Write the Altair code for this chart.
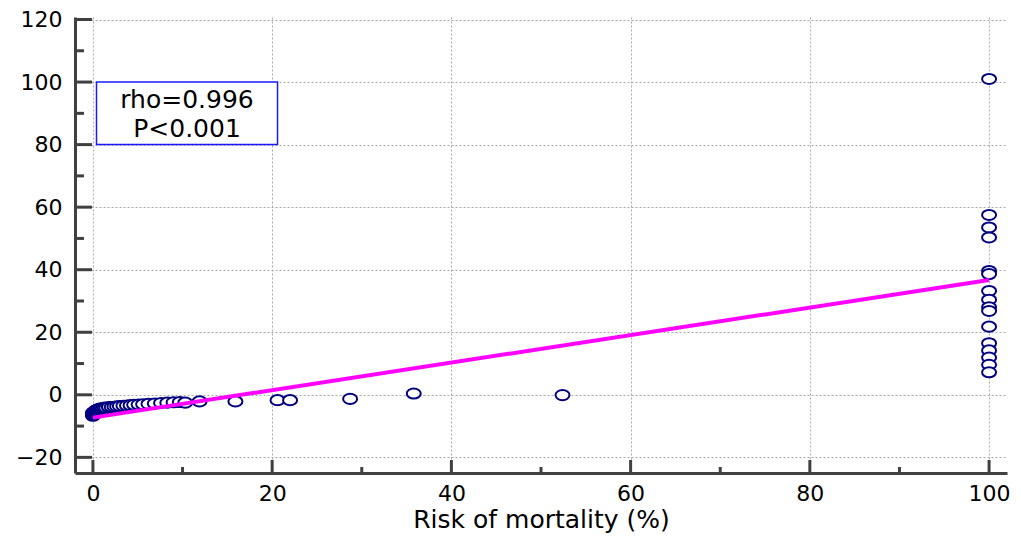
import altair as alt
import pandas as pd

# Observed points (risk of mortality %, observed value)
pts_x = [0.0, 0.0, 0.0, 0.0, 0.1, 0.1, 0.2, 0.2, 0.3, 0.3, 0.4, 0.4, 0.5, 0.5,
         0.7, 0.7, 0.9, 0.9, 1.1, 1.3, 1.3, 1.5, 1.8, 1.8, 2.1, 2.4, 2.7, 3.0,
         3.4, 3.8, 4.2, 4.6, 5.1, 5.6, 6.2, 6.9, 7.6, 8.3, 9.0, 9.7, 10.3, 11.9,
         15.9, 20.6, 22.0, 28.7, 35.8, 52.4,
         100, 100, 100, 100, 100, 100, 100, 100, 100, 100, 100, 100, 100, 100, 100, 100]
pts_y = [-6.7, -6.4, -6.1, -5.8, -6.2, -5.6, -5.9, -5.3, -5.5, -5.1, -5.2, -4.9, -5.0, -4.7,
         -4.8, -4.5, -4.6, -4.3, -4.4, -4.3, -4.1, -4.2, -4.0, -3.9, -3.9, -3.8, -3.7, -3.6,
         -3.5, -3.4, -3.3, -3.2, -3.1, -3.0, -2.9, -2.8, -2.6, -2.5, -2.4, -2.3, -2.5, -2.1,
         -2.1, -1.7, -1.7, -1.3, 0.4, -0.1,
         101.0, 57.5, 53.5, 50.3, 39.6, 38.6, 33.2, 30.4, 28.0, 26.8, 21.8, 16.5, 14.2, 11.9, 9.6, 7.2]

# Regression line end points
fit_x = [0, 100]
fit_y = [-7.3, 36.7]

x_major = [0, 20, 40, 60, 80, 100]
x_minor = [10, 30, 50, 70, 90]
y_major = [-20, 0, 20, 40, 60, 80, 100, 120]
y_minor = [-10, 10, 30, 50, 70, 90, 110]

stat_lines = ["rho=0.996", "P<0.001"]
box_x = [0.4, 20.6]
box_y = [80, 100]
text_x = [10.5, 10.5]
text_y = [94.2, 85.0]

AXIS_COL = "#404040"
xs = alt.Scale(domain=[-2, 102], nice=False, zero=False)
ys = alt.Scale(domain=[-25, 120.8], nice=False, zero=False)
ax_x = alt.Axis(values=x_major, title="Risk of mortality (%)", grid=True)
ax_y = alt.Axis(values=y_major, title=None, grid=True)


def X(f):
    return alt.X(f, type="quantitative", scale=xs, axis=ax_x, title="Risk of mortality (%)")


def Y(f):
    return alt.Y(f, type="quantitative", scale=ys, axis=ax_y, title=None)


df_pts = pd.DataFrame({"x": pts_x, "y": pts_y})
df_fit = pd.DataFrame({"x": fit_x, "y": fit_y})

ellipse = "M -1 0 A 1 0.72 0 1 1 1 0 A 1 0.72 0 1 1 -1 0 Z"

points = alt.Chart(df_pts).mark_point(
    shape=ellipse, size=196, filled=True, color="white",
    stroke="#000080", strokeWidth=2, opacity=1
).encode(x=X("x"), y=Y("y"))

fit = alt.Chart(df_fit).mark_line(color="#FF00FF", strokeWidth=4).encode(x=X("x"), y=Y("y"))

xmaj = alt.Chart(pd.DataFrame({"x": x_major})).mark_rule(color=AXIS_COL, strokeWidth=3).encode(
    x=X("x"), y=alt.value(443), y2=alt.value(456))
xmin = alt.Chart(pd.DataFrame({"x": x_minor})).mark_rule(color=AXIS_COL, strokeWidth=3).encode(
    x=X("x"), y=alt.value(450), y2=alt.value(456))
ymaj = alt.Chart(pd.DataFrame({"y": y_major})).mark_rule(color=AXIS_COL, strokeWidth=3).encode(
    y=Y("y"), x=alt.value(0), x2=alt.value(17))
ymin = alt.Chart(pd.DataFrame({"y": y_minor})).mark_rule(color=AXIS_COL, strokeWidth=3).encode(
    y=Y("y"), x=alt.value(0), x2=alt.value(9))

box = alt.Chart(pd.DataFrame({"x": [box_x[0]], "x2": [box_x[1]], "y": [box_y[0]], "y2": [box_y[1]]})).mark_rect(
    fill="white", stroke="#1a1aff", strokeWidth=1.5
).encode(x=X("x"), x2="x2:Q", y=Y("y"), y2="y2:Q")

txt = alt.Chart(pd.DataFrame({"x": text_x, "y": text_y, "t": stat_lines})).mark_text(
    font="DejaVu Sans", fontSize=25, align="center", baseline="middle", color="black"
).encode(x=X("x"), y=Y("y"), text="t:N")

chart = alt.layer(xmaj, xmin, ymaj, ymin, points, fit, box, txt).properties(
    width=932, height=456,
    autosize=alt.AutoSizeParams(type="none"),
    padding={"left": 67, "top": 9, "right": 6, "bottom": 64},
    background="white",
).configure_view(stroke=None).configure_axis(
    domainColor=AXIS_COL, domainWidth=3, ticks=False, tickSize=0,
    gridColor="#a8a8a8", gridDash=[2, 2], gridWidth=1,
    labelFont="DejaVu Sans", labelFontSize=22, labelColor="black",
    titleFont="DejaVu Sans", titleFontSize=25, titleColor="black", titleFontWeight="normal",
).configure_axisX(labelPadding=10, titlePadding=3).configure_axisY(labelPadding=13)

chart.save("out.html", embed_options={"renderer": "svg", "actions": False})
